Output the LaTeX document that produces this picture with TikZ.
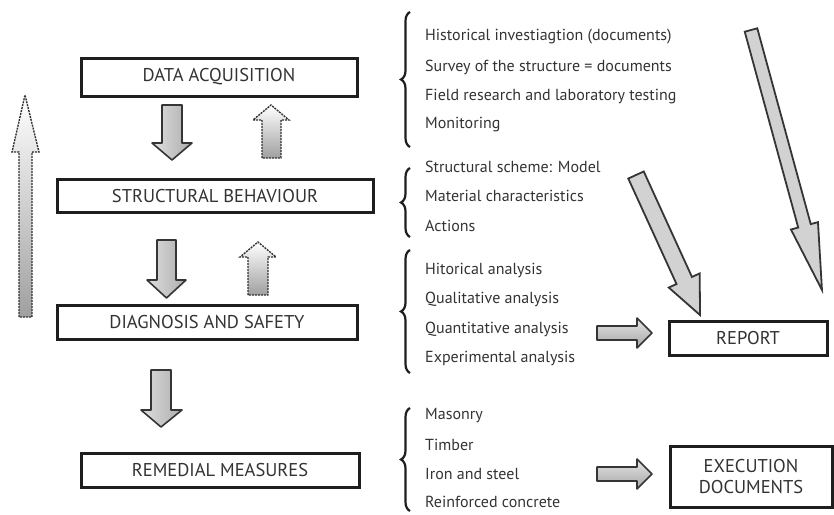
\documentclass[tikz,border=0pt]{standalone}
\usepackage{fontspec}
\setmainfont{PT Sans}
\usetikzlibrary{decorations.pathreplacing}
\definecolor{ink}{HTML}{333333}
\definecolor{frame}{HTML}{1E1E1E}
\definecolor{edge}{HTML}{353535}
\begin{document}
\begin{tikzpicture}[x=1pt,y=-1pt,
  stage/.style={draw=frame, line width=3pt, fill=white, inner sep=0pt,
    font=\fontsize{18.5}{20}\selectfont, text=ink, align=center},
  item/.style={anchor=west, inner sep=0pt, font=\fontsize{16}{18}\selectfont, text=ink},
  grp/.style={draw=frame, line width=2.2pt, decorate, decoration={brace, amplitude=9pt}},
  downblock/.style={draw=edge, line width=1.6pt, line join=round,
    left color=gray!25, right color=gray!65},
  upblock/.style={draw=gray!40!black, line width=1.4pt, dash pattern=on 2pt off 1pt,
    top color=white, bottom color=gray!75},
  sideblock/.style={draw=edge, line width=1.6pt, line join=round,
    top color=gray!20, bottom color=gray!70},
  slant/.style={draw=edge, line width=1.8pt, line join=miter, fill=gray!35},
]
\useasboundingbox (0,0) rectangle (834,514);

% ---- main stages ----
\node[stage, minimum width=276pt, minimum height=38pt] (da) at (219,77) {DATA ACQUISITION};
\node[stage, minimum width=316pt, minimum height=33pt] (sb) at (215,196) {STRUCTURAL BEHAVIOUR};
\node[stage, minimum width=300pt, minimum height=34pt] (ds) at (207,322) {DIAGNOSIS AND SAFETY};
\node[stage, minimum width=278pt, minimum height=34pt] (rm) at (220,470) {REMEDIAL MEASURES};
\node[stage, minimum width=158pt, minimum height=34pt] (rep) at (748,338) {REPORT};
\node[stage, minimum width=162pt, minimum height=61pt, font=\fontsize{18.5}{21}\selectfont]
  (exe) at (751,477) {EXECUTION\\DOCUMENTS};

% ---- block arrows between the stages ----
\path[downblock] (162,105) -- (182,105) -- (182,143) -- (192,143) -- (172,160)
  -- (152,143) -- (162,143) -- cycle;
\path[upblock] (262,158) -- (262,120) -- (253,120) -- (271,105) -- (289,120)
  -- (281,120) -- (281,158) -- cycle;
\path[downblock] (157,240) -- (176,240) -- (176,280) -- (186,280) -- (166.5,298)
  -- (147,280) -- (157,280) -- cycle;
\path[upblock] (248,295) -- (248,257) -- (240,257) -- (258,242) -- (276,257)
  -- (268,257) -- (268,295) -- cycle;
\path[downblock] (151,370) -- (171,370) -- (171,410) -- (182,410) -- (161,427)
  -- (141,410) -- (151,410) -- cycle;

% long feedback arrow on the left
\path[upblock] (19,317) -- (19,152) -- (12,152) -- (25,95) -- (39,152)
  -- (32,152) -- (32,317) -- cycle;

% ---- lists of activities ----
\draw[grp] (410,147) -- (410,12);
\node[item] (a1) at (425,37)  {Historical investiagtion (documents)};
\node[item] (a2) at (425,67)  {Survey of the structure = documents};
\node[item] (a3) at (425,97)  {Field research and laboratory testing};
\node[item] (a4) at (425,125) {Monitoring};

\draw[grp] (410,237) -- (410,168);
\node[item] (b1) at (425,167) {Structural scheme: Model};
\node[item] (b2) at (425,196) {Material characteristics};
\node[item] (b3) at (425,226) {Actions};

\draw[grp] (410,373) -- (410,250);
\node[item] (c1) at (425,270) {Hitorical analysis};
\node[item] (c2) at (425,299) {Qualitative analysis};
\node[item] (c3) at (425,329) {Quantitative analysis};
\node[item] (c4) at (425,358) {Experimental analysis};

\draw[grp] (410,511) -- (410,408);
\node[item] (d1) at (425,416) {Masonry};
\node[item] (d2) at (425,445) {Timber};
\node[item] (d3) at (425,474) {Iron and steel};
\node[item] (d4) at (425,502) {Reinforced concrete};

% ---- arrows towards the outputs ----
\path[sideblock] (597,326) -- (637,326) -- (637,318) -- (652,333) -- (637,348)
  -- (637,340) -- (597,340) -- cycle;
\path[sideblock] (597,467) -- (637,467) -- (637,459) -- (652,474) -- (637,489)
  -- (637,481) -- (597,481) -- cycle;

% slanted arrows into the report
\begin{scope}[shift={(636,175)}, rotate=-65.43]
  \path[slant] (0,-8.5) -- (116,-8.5) -- (116,-17) -- (154,0) -- (116,17)
    -- (116,8.5) -- (0,8.5) -- cycle;
\end{scope}
\begin{scope}[shift={(751,30)}, rotate=-74.73]
  \path[slant] (0,-6.5) -- (203,-6.5) -- (203,-14) -- (269.5,0) -- (203,14)
    -- (203,6.5) -- (0,6.5) -- cycle;
\end{scope}
\end{tikzpicture}
\end{document}
